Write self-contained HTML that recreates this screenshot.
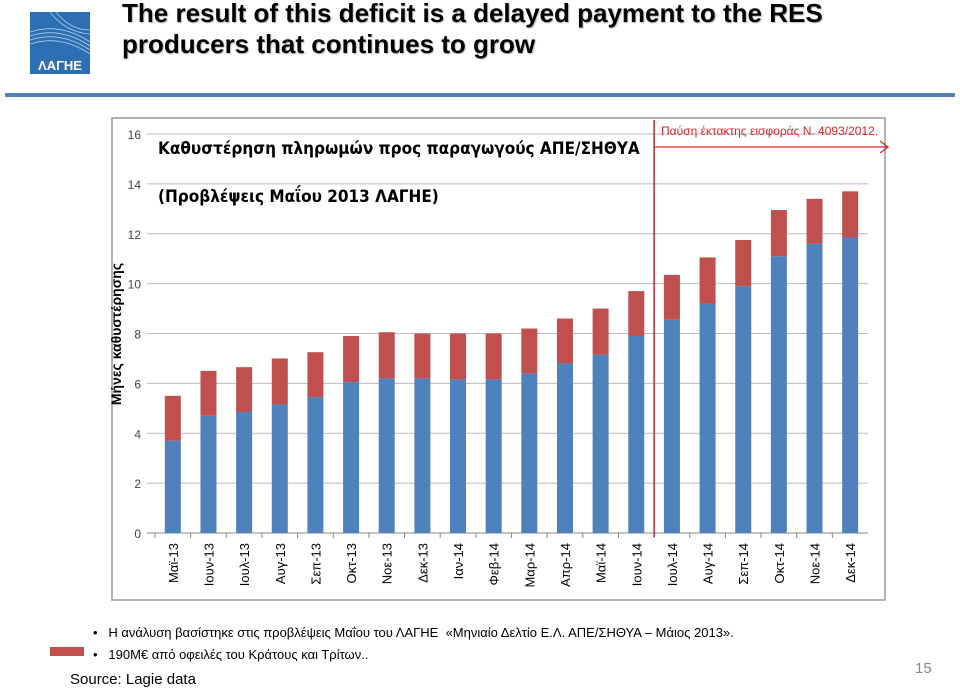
<!DOCTYPE html>
<html><head><meta charset="utf-8"><style>
body{margin:0;width:960px;height:690px;background:#fff;overflow:hidden;font-family:"Liberation Sans","DejaVu Sans",sans-serif;position:relative}
.t{position:absolute;white-space:nowrap}
</style></head><body>
<svg width="60" height="62" style="position:absolute;left:30px;top:12px" viewBox="0 0 60 62">
<rect width="60" height="62" fill="#2d6fb5"/>
<g stroke="#cfe2f5" stroke-width="0.8" fill="none" opacity="0.8">
<path d="M0 20 Q30 10 60 30"/><path d="M0 24 Q30 14 60 34"/><path d="M0 28 Q30 18 60 38"/><path d="M0 32 Q30 22 60 42"/><path d="M20 0 Q35 20 60 22"/><path d="M26 0 Q40 18 60 18"/>
</g>
<text x="30" y="58" fill="#fff" font-size="13" font-weight="bold" text-anchor="middle" font-family="Liberation Sans, sans-serif">ΛΑΓΗΕ</text>
</svg>
<div class="t" style="left:122px;top:-2px;font-size:26px;font-weight:bold;line-height:31px;color:#000;text-shadow:1px 1px 1px #bbb">The result of this deficit is a delayed payment to the RES<br>producers that continues to grow</div>
<div style="position:absolute;left:5px;top:93px;width:950px;height:4px;background:#4f7fb5"></div>
<svg id="chart" width="960" height="690" style="position:absolute;left:0;top:0"></svg>
<div class="t" style="left:93px;top:625px;font-size:13px">•&nbsp;&nbsp;&nbsp;Η ανάλυση βασίστηκε στις προβλέψεις Μαΐου του ΛΑΓΗΕ &nbsp;«Μηνιαίο Δελτίο Ε.Λ. ΑΠΕ/ΣΗΘΥΑ – Μάιος 2013».</div>
<div style="position:absolute;left:50px;top:647px;width:34px;height:9px;background:#c0504d"></div>
<div class="t" style="left:93px;top:647px;font-size:13px">•&nbsp;&nbsp;&nbsp;190Μ€ από οφειλές του Κράτους και Τρίτων..</div>
<div class="t" style="left:70px;top:671px;font-size:15px">Source: Lagie data</div>
<div class="t" style="left:915px;top:660px;font-size:15px;color:#888">15</div>
<script>
const categories=["Μαϊ-13","Ιουν-13","Ιουλ-13","Αυγ-13","Σεπ-13","Οκτ-13","Νοε-13","Δεκ-13","Ιαν-14","Φεβ-14","Μαρ-14","Απρ-14","Μαϊ-14","Ιουν-14","Ιουλ-14","Αυγ-14","Σεπ-14","Οκτ-14","Νοε-14","Δεκ-14"];
const blueValues=[3.7,4.7,4.85,5.15,5.45,6.05,6.2,6.2,6.15,6.15,6.4,6.8,7.15,7.9,8.55,9.2,9.9,11.1,11.6,11.85];
const totalValues=[5.5,6.5,6.65,7.0,7.25,7.9,8.05,8.0,8.0,8.0,8.2,8.6,9.0,9.7,10.35,11.05,11.75,12.95,13.4,13.7];
const yTicks=[0,2,4,6,8,10,12,14,16];
const svg=document.getElementById('chart');const NS='http://www.w3.org/2000/svg';
function mk(t,a,p){const e=document.createElementNS(NS,t);for(const k in a)e.setAttribute(k,a[k]);(p||svg).appendChild(e);return e;}
const x0=155,x1=868,y0=533,y1=134;
const yS=v=>y0-(v/16)*(y0-y1);
const step=(x1-x0)/categories.length;
const xS=i=>x0+step*(i+0.5);
let r=mk('rect',{x:112,y:118,width:773,height:482,fill:'none',stroke:'#999','stroke-width':1.5});

yTicks.forEach(v=>{
 let l=mk('line',{x1:x0-8,x2:x1,y1:yS(v),y2:yS(v),stroke:v==0?'#888':'#bbb','stroke-width':1});
 
 let t=mk('text',{x:141,y:yS(v)+5,'text-anchor':'end','font-size':12,fill:'#444','font-family':'Liberation Sans Narrow, Liberation Sans, sans-serif'});
 t.textContent=v;
});
categories.forEach((c,i)=>{
 const cx=xS(i),w=16;
 let b=mk('rect',{x:cx-w/2,y:yS(blueValues[i]),width:w,height:yS(0)-yS(blueValues[i]),fill:'#4f81bd'});
 
 let rr=mk('rect',{x:cx-w/2,y:yS(totalValues[i]),width:w,height:yS(blueValues[i])-yS(totalValues[i]),fill:'#c0504d'});
 
 let tk=mk('line',{x1:x0+step*i,x2:x0+step*i,y1:y0,y2:y0+5,stroke:'#888'});
 
 let t=mk('text',{transform:`translate(${cx+5},${y0+10}) rotate(-90)`,'text-anchor':'end','font-size':13,fill:'#000','font-family':'Liberation Sans, DejaVu Sans, sans-serif'});
 t.textContent=c;
});
let yt=mk('text',{transform:'translate(121,334) rotate(-90)','text-anchor':'middle','font-size':14,'font-weight':'bold',fill:'#000'});
yt.textContent='Μήνες καθυστέρησης';
let ct=mk('text',{x:158,y:154,'font-size':17,'font-weight':'bold',fill:'#000','font-family':'DejaVu Sans Condensed, Liberation Sans, sans-serif'});
ct.textContent='Καθυστέρηση πληρωμών προς παραγωγούς ΑΠΕ/ΣΗΘΥΑ';
let cs=mk('text',{x:158,y:202,'font-size':17,'font-weight':'bold',fill:'#000','font-family':'DejaVu Sans Condensed, Liberation Sans, sans-serif'});
cs.textContent='(Προβλέψεις Μαΐου  2013 ΛΑΓΗΕ)';
const vx=xS(13.5);
let vl=mk('line',{x1:vx,x2:vx,y1:120,y2:537,stroke:'#c0272d','stroke-width':1.5});

let ar=mk('path',{d:`M${vx} 147 H888 M880 141 L888 147 L880 153`,stroke:'#d6262e',fill:'none','stroke-width':1.2});

let at=mk('text',{x:661,y:135,'font-size':12,fill:'#d6262e'});
at.textContent='Παύση έκτακτης εισφοράς Ν. 4093/2012.';
</script>
</body></html>
